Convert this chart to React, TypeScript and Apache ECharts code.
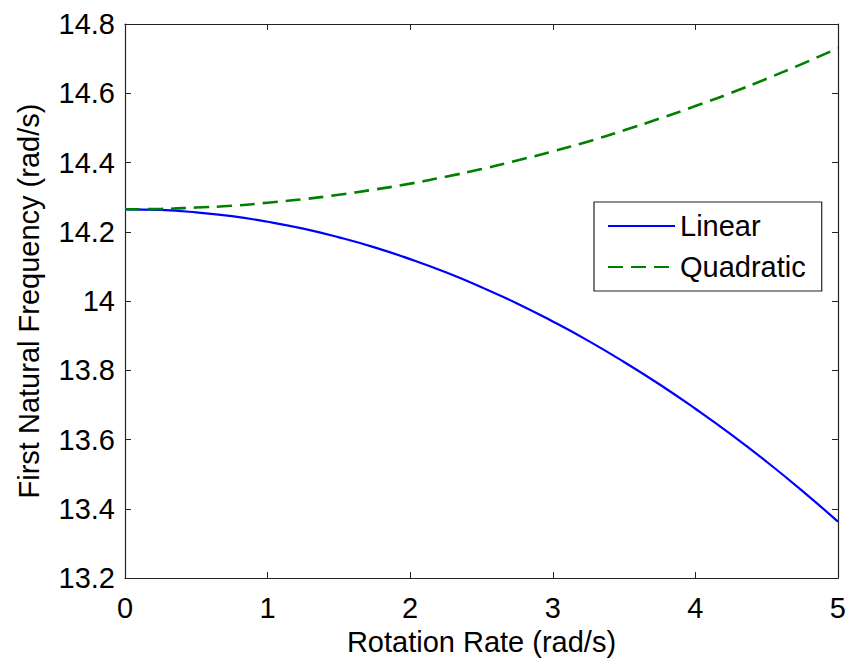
import React, { useEffect, useRef } from "react";
import * as echarts from "echarts";

const rotationRate = [0, 0.25, 0.5, 0.75, 1, 1.25, 1.5, 1.75, 2, 2.25, 2.5, 2.75, 3, 3.25, 3.5, 3.75, 4, 4.25, 4.5, 4.75, 5];
const linearFreq = [14.265, 14.263, 14.256, 14.245, 14.229, 14.209, 14.184, 14.155, 14.121, 14.083, 14.04, 13.993, 13.941, 13.885, 13.824, 13.759, 13.689, 13.615, 13.536, 13.452, 13.363];
const quadraticFreq = [14.265, 14.266, 14.27, 14.275, 14.284, 14.294, 14.307, 14.322, 14.339, 14.359, 14.381, 14.406, 14.432, 14.461, 14.493, 14.527, 14.563, 14.601, 14.642, 14.685, 14.73];
const seriesNames = ["Linear", "Quadratic"];
const xTitle = "Rotation Rate (rad/s)";
const yTitle = "First Natural Frequency (rad/s)";

const FONT = "'Liberation Sans', Arial, Helvetica, sans-serif";
const AX = "#222";

export default function App() {
  const ref = useRef<HTMLDivElement>(null);
  useEffect(() => {
    document.body.style.margin = "0";
    const chart = echarts.init(ref.current!, null, { renderer: "svg" });
    const boxAxis = {
      axisLine: { show: true, onZero: false, lineStyle: { color: AX, width: 1.2 } },
      axisTick: { show: true, inside: true, length: 6, lineStyle: { color: AX } },
      splitLine: { show: false },
    };
    chart.setOption({
      animation: false,
      backgroundColor: "#fff",
      textStyle: { fontFamily: FONT },
      grid: { left: 125, right: 11, top: 24, bottom: 79, containLabel: false },
      legend: {
        data: seriesNames,
        orient: "vertical",
        left: 594,
        top: 202,
        padding: [9, 16, 9, 13],
        itemWidth: 67,
        itemHeight: 2,
        itemGap: 11,
        borderColor: "#222",
        borderWidth: 1.2,
        backgroundColor: "#fff",
        itemStyle: { opacity: 0 },
        textStyle: { fontFamily: FONT, fontSize: 29, color: "#000", lineHeight: 30 },
      },
      xAxis: [
        {
          type: "value",
          min: 0,
          max: 5,
          interval: 1,
          position: "bottom",
          name: xTitle,
          nameLocation: "middle",
          nameGap: 46,
          nameTextStyle: { fontFamily: FONT, fontSize: 29, color: "#000", verticalAlign: "top" },
          axisLabel: { fontFamily: FONT, fontSize: 29, color: "#000", margin: 15 },
          ...boxAxis,
        },
        {
          type: "value",
          min: 0,
          max: 5,
          interval: 1,
          position: "top",
          axisLabel: { show: false },
          ...boxAxis,
        },
      ],
      yAxis: [
        {
          type: "value",
          min: 13.2,
          max: 14.8,
          interval: 0.2,
          position: "left",
          name: yTitle,
          nameLocation: "middle",
          nameGap: 82,
          nameTextStyle: { fontFamily: FONT, fontSize: 29, color: "#000" },
          axisLabel: {
            fontFamily: FONT,
            fontSize: 29,
            color: "#000",
            margin: 10,
            formatter: (v: number) => String(parseFloat(v.toFixed(1))),
          },
          ...boxAxis,
        },
        {
          type: "value",
          min: 13.2,
          max: 14.8,
          interval: 0.2,
          position: "right",
          axisLabel: { show: false },
          ...boxAxis,
        },
      ],
      series: [
        {
          name: seriesNames[0],
          type: "line",
          symbol: "none",
          showSymbol: false,
          smooth: true,
          data: rotationRate.map((x, i) => [x, linearFreq[i]]),
          lineStyle: { color: "#0000ff", width: 2.2 },
          itemStyle: { color: "#0000ff" },
        },
        {
          name: seriesNames[1],
          type: "line",
          symbol: "none",
          showSymbol: false,
          smooth: true,
          data: rotationRate.map((x, i) => [x, quadraticFreq[i]]),
          lineStyle: { color: "#008000", width: 2.6, type: [15, 8] },
          itemStyle: { color: "#008000" },
        },
      ],
    });
    return () => chart.dispose();
  }, []);
  return <div ref={ref} style={{ width: 849, height: 661 }} />;
}
